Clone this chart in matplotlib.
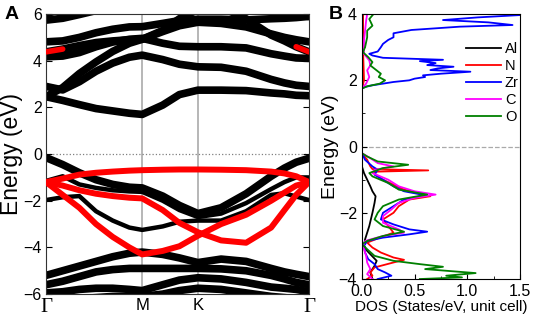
import matplotlib
matplotlib.use('Agg')
from matplotlib import pyplot as plt
import numpy as np

plt.rcParams['font.family'] = ['Liberation Sans', 'DejaVu Sans']

# ---------------- band structure (panel A) ----------------
# k-path: G -> M -> K -> G (hexagonal, |GM| = 0.577, |MK| = 0.333, |KG| = 0.667)
kpts = [0, 0.1, 0.2, 0.3, 0.4, 0.5, 0.577, 0.7, 0.8, 0.911, 1.05, 1.2, 1.35, 1.43, 1.5, 1.577]
k_sym = [0, 0.577, 0.911, 1.577]
k_labels = ['Γ', 'M', 'K', 'Γ']

# conduction bands (eV)
c1 = [2.46, 2.3, 2.12, 1.95, 1.85, 1.75, 1.70, 2.1, 2.55, 2.74, 2.74, 2.72, 2.62, 2.58, 2.52, 2.5]
c2 = [2.9, 2.75, 3.1, 3.55, 3.9, 4.15, 4.24, 4.05, 3.85, 3.74, 3.72, 3.55, 3.2, 3.05, 2.95, 2.9]
c3 = [2.46, 2.85, 3.45, 3.95, 4.4, 4.75, 4.92, 5.25, 5.5, 5.65, 5.6, 5.45, 5.15, 5.0, 4.9, 4.81]
c4 = [4.17, 4.2, 4.35, 4.6, 4.8, 4.92, 4.96, 4.75, 4.62, 4.6, 4.6, 4.55, 4.3, 4.2, 4.12, 4.1]
c5 = [4.81, 4.85, 5.0, 5.2, 5.35, 5.45, 5.46, 5.6, 5.72, 5.78, 5.78, 5.75, 5.8, 5.82, 5.85, 5.9]
c6 = [4.38, 4.5, 4.65, 4.78, 4.85, 4.9, 4.92, 5.3, 5.8, 6.2, 6.3, 5.8, 5.1, 4.85, 4.6, 4.38]
c7 = [5.74, 5.82, 5.98, 6.15, 6.3, 6.4, 6.4, 6.4, 6.4, 6.4, 6.4, 6.3, 6.1, 6.02, 5.95, 5.9]
c8 = [6.0, 6.25, 6.45, 6.5, 6.5, 6.5, 6.5, 6.5, 6.5, 6.5, 6.5, 6.5, 6.5, 6.5, 6.5, 6.5]

# valence bands (black)
v1 = [-0.15, -0.45, -0.8, -1.1, -1.3, -1.42, -1.45, -1.8, -2.2, -2.55, -2.3, -1.7, -0.95, -0.6, -0.35, -0.18]
v2 = [-1.15, -0.95, -1.3, -1.45, -1.55, -1.6, -1.62, -2.0, -2.4, -2.7, -2.55, -2.1, -1.5, -1.2, -1.0, -1.0]
v3 = [-1.97, -1.85, -1.8, -2.45, -2.85, -3.15, -3.25, -3.1, -2.9, -2.85, -2.85, -2.45, -1.75, -1.68, -1.82, -1.97]
b1 = [-5.2, -5.0, -4.8, -4.6, -4.4, -4.25, -4.2, -4.3, -4.45, -4.65, -4.5, -4.6, -4.9, -5.05, -5.15, -5.25]
b2 = [-5.6, -5.45, -5.25, -5.05, -4.95, -4.9, -4.9, -4.9, -4.9, -4.9, -4.92, -5.0, -5.2, -5.35, -5.5, -5.6]
b3 = [-5.95, -5.9, -5.8, -5.75, -5.75, -5.8, -5.85, -5.6, -5.4, -5.3, -5.35, -5.5, -5.7, -5.75, -5.8, -5.9]
b4 = [-6.3, -6.25, -6.2, -6.15, -6.1, -6.1, -6.1, -6.0, -5.85, -5.75, -5.8, -5.95, -6.1, -6.15, -6.2, -6.3]

# valence bands (red, N-projected)
r1 = [-1.2, -1.05, -0.88, -0.8, -0.75, -0.71, -0.69, -0.67, -0.66, -0.66, -0.67, -0.69, -0.75, -0.83, -0.95, -1.2]
r2 = [-1.2, -1.35, -1.55, -1.7, -1.8, -1.87, -1.9, -2.4, -2.95, -3.35, -3.7, -3.8, -3.15, -2.4, -1.75, -1.2]
r3 = [-1.2, -1.75, -2.3, -3.0, -3.55, -4.0, -4.3, -4.15, -3.95, -3.5, -3.0, -2.6, -2.0, -1.65, -1.35, -1.2]

# ---------------- DOS (panel B) ----------------
e_al = [-4.0, -3.8, -3.6, -3.45, -3.35, -3.15, -3.0, -2.8, -2.4, -2.0, -1.7, -1.5, -1.35, -1.2, -1.0, -0.8, -0.6, -0.2, 1.75, 2.0, 3.0, 4.0]
dos_al = [0.1, 0.08, 0.12, 0.14, 0.11, 0.05, 0.02, 0.03, 0.07, 0.1, 0.12, 0.13, 0.1, 0.08, 0.05, 0.02, 0.0, 0.0, 0.0, 0.01, 0.01, 0.01]

e_n = [-4.0, -3.9, -3.8, -3.65, -3.5, -3.42, -3.35, -3.2, -3.05, -2.9, -2.75, -2.6, -2.4, -2.2, -2.0, -1.8, -1.6, -1.5, -1.4, -1.3, -1.15, -1.0, -0.9, -0.76, -0.72, -0.68, -0.6, -0.4, -0.2, 1.75, 2.0, 3.0, 4.0]
dos_n = [0.05, 0.1, 0.08, 0.12, 0.3, 0.4, 0.3, 0.18, 0.1, 0.05, 0.17, 0.3, 0.25, 0.2, 0.3, 0.35, 0.45, 0.65, 0.55, 0.4, 0.3, 0.2, 0.15, 0.1, 0.63, 0.1, 0.08, 0.05, 0.0, 0.0, 0.02, 0.01, 0.01]

e_zr = [-4.0, -3.9, -3.8, -3.7, -3.55, -3.4, -3.2, -3.0, -2.85, -2.75, -2.65, -2.57, -2.5, -2.35, -2.2, -2.0, -1.8, -1.6, -1.47, -1.35, -1.2, -1.0, -0.85, -0.7, -0.6, -0.4, -0.2,
        1.75, 1.8, 1.85, 1.9, 1.95, 2.0, 2.05, 2.1, 2.15, 2.2, 2.26, 2.31, 2.36, 2.41, 2.46, 2.52, 2.58, 2.62, 2.68, 2.75, 2.8, 2.87,
        3.0, 3.1, 3.22, 3.3, 3.42, 3.52, 3.62, 3.67, 3.75, 3.82, 3.9, 3.97, 4.0]
dos_zr = [0.15, 0.28, 0.22, 0.15, 0.12, 0.06, 0.03, 0.02, 0.05, 0.2, 0.45, 0.62, 0.45, 0.3, 0.18, 0.2, 0.3, 0.4, 0.6, 0.4, 0.3, 0.2, 0.12, 0.15, 0.1, 0.03, 0.0,
          0.0, 0.03, 0.1, 0.2, 0.3, 0.45, 0.5, 0.6, 0.58, 0.75, 1.03, 0.65, 0.72, 0.87, 0.62, 0.7, 0.55, 0.77, 0.2, 0.1, 0.07, 0.15,
          0.18, 0.2, 0.25, 0.3, 0.3, 0.47, 0.93, 1.43, 1.2, 0.77, 1.1, 1.5, 1.45]

e_c = [-4.0, -3.85, -3.7, -3.5, -3.3, -3.0, -2.85, -2.7, -2.6, -2.5, -2.3, -2.1, -1.9, -1.7, -1.55, -1.45, -1.35, -1.2, -1.0, -0.8, -0.7, -0.6, -0.5, -0.35, -0.2,
       1.75, 1.9, 2.1, 2.3, 2.45, 2.6, 2.8, 3.2, 3.5, 3.8, 4.0]
dos_c = [0.1, 0.05, 0.08, 0.05, 0.04, 0.01, 0.03, 0.2, 0.4, 0.35, 0.2, 0.2, 0.28, 0.35, 0.5, 0.7, 0.5, 0.35, 0.25, 0.1, 0.12, 0.3, 0.15, 0.08, 0.0,
         0.0, 0.04, 0.07, 0.05, 0.08, 0.07, 0.02, 0.02, 0.03, 0.04, 0.05]

e_o = [-4.0, -3.95, -3.9, -3.82, -3.7, -3.63, -3.55, -3.45, -3.3, -3.1, -2.95, -2.85, -2.7, -2.57, -2.4, -2.2, -2.0, -1.8, -1.6, -1.45, -1.3, -1.1, -0.9, -0.8, -0.65, -0.55, -0.45, -0.3, -0.2,
       1.75, 1.82, 1.9, 2.0, 2.1, 2.2, 2.3, 2.45, 2.55, 2.7, 2.85, 3.0, 3.3, 3.5, 3.65, 3.85, 4.0]
dos_o = [0.55, 0.95, 0.8, 1.08, 0.6, 0.77, 0.55, 0.3, 0.12, 0.05, 0.0, 0.05, 0.2, 0.4, 0.2, 0.12, 0.15, 0.2, 0.35, 0.62, 0.35, 0.25, 0.1, 0.07, 0.2, 0.44, 0.15, 0.05, 0.0,
         0.0, 0.05, 0.17, 0.22, 0.16, 0.18, 0.14, 0.08, 0.1, 0.06, 0.01, 0.03, 0.05, 0.05, 0.1, 0.07, 0.11]

fig = plt.figure(figsize=(5.33, 3.2), dpi=100)

# ---------------- panel A ----------------
ax = fig.add_axes([0.0863, 0.081, 0.4934, 0.875])
for kk in k_sym[1:3]:
    ax.axvline(kk, color='#aaaaaa', lw=1.2, zorder=1)
ax.axhline(0, color='gray', ls=':', lw=0.9, zorder=1)

for band in [c1, c2, c3, c4, c5, c6, c7, c8, v1, b1, b2, b3, b4]:
    ax.plot(kpts, band, color='black', lw=5.5, solid_capstyle='round', solid_joinstyle='round', zorder=2)
for band in [v2, v3]:
    ax.plot(kpts, band, color='black', lw=3.2, solid_capstyle='round', solid_joinstyle='round', zorder=2)
for band in [r1, r2, r3]:
    ax.plot(kpts, band, color='red', lw=4.3, solid_capstyle='round', solid_joinstyle='round', zorder=3)
# red tips of the N-projected conduction band near Gamma
ax.plot(kpts[:2], c6[:2], color='red', lw=4, solid_capstyle='round', zorder=3)
ax.plot(kpts[-2:], c6[-2:], color='red', lw=4, solid_capstyle='round', zorder=3)

ax.set_xlim(0, 1.577)
ax.set_ylim(-6, 6)
ax.set_xticks(k_sym)
ax.set_xticklabels(k_labels, fontsize=12)
for lab in ax.get_xticklabels():
    if lab.get_text() == 'Γ':
        lab.set_fontfamily('Liberation Serif')
        lab.set_fontsize(15)
ax.tick_params(axis='x', length=0, pad=3)
ax.set_yticks([-6, -4, -2, 0, 2, 4, 6])
ax.tick_params(axis='y', direction='in', length=4, labelsize=11.5, right=True, pad=3)
ax.set_ylabel('Energy (eV)', fontsize=16.5)
ax.yaxis.set_label_coords(-0.088, 0.5)
for s in ax.spines.values():
    s.set_color('#333333')
fig.text(0.008, 0.955, 'A', fontsize=14, fontweight='bold', va='center')

# ---------------- panel B ----------------
bx = fig.add_axes([0.679, 0.128, 0.2964, 0.828])
bx.axhline(0, color='#aaaaaa', ls='--', lw=0.9, zorder=1)
bx.plot(dos_al, e_al, color='black', lw=1.3, label='Al')
bx.plot(dos_n, e_n, color='red', lw=1.3, label='N')
bx.plot(dos_zr, e_zr, color='blue', lw=1.3, label='Zr')
bx.plot(dos_c, e_c, color='magenta', lw=1.3, label='C')
bx.plot(dos_o, e_o, color='green', lw=1.3, label='O')
bx.set_xlim(0, 1.5)
bx.set_ylim(-4, 4)
bx.set_xticks([0, 0.5, 1.0, 1.5])
bx.set_xticklabels(['0.0', '0.5', '1.0', '1.5'])
bx.set_xticks([0.25, 0.75, 1.25], minor=True)
bx.set_yticks([-4, -2, 0, 2, 4])
bx.set_yticks([-3, -1, 1, 3], minor=True)
bx.tick_params(which='both', direction='in', labelsize=11.5)
bx.tick_params(which='major', length=3.5)
bx.tick_params(which='minor', length=2)
bx.set_xlabel('DOS (States/eV, unit cell)', fontsize=11, labelpad=1)
bx.set_ylabel('Energy (eV)', fontsize=14, labelpad=0)
bx.legend(frameon=False, fontsize=10.5, loc='upper right', bbox_to_anchor=(1.03, 0.915),
          handlelength=2.4, handletextpad=0.3, labelspacing=0.2, borderaxespad=0)
fig.text(0.617, 0.955, 'B', fontsize=14, fontweight='bold', va='center')

fig.savefig('out.png', dpi=100)
